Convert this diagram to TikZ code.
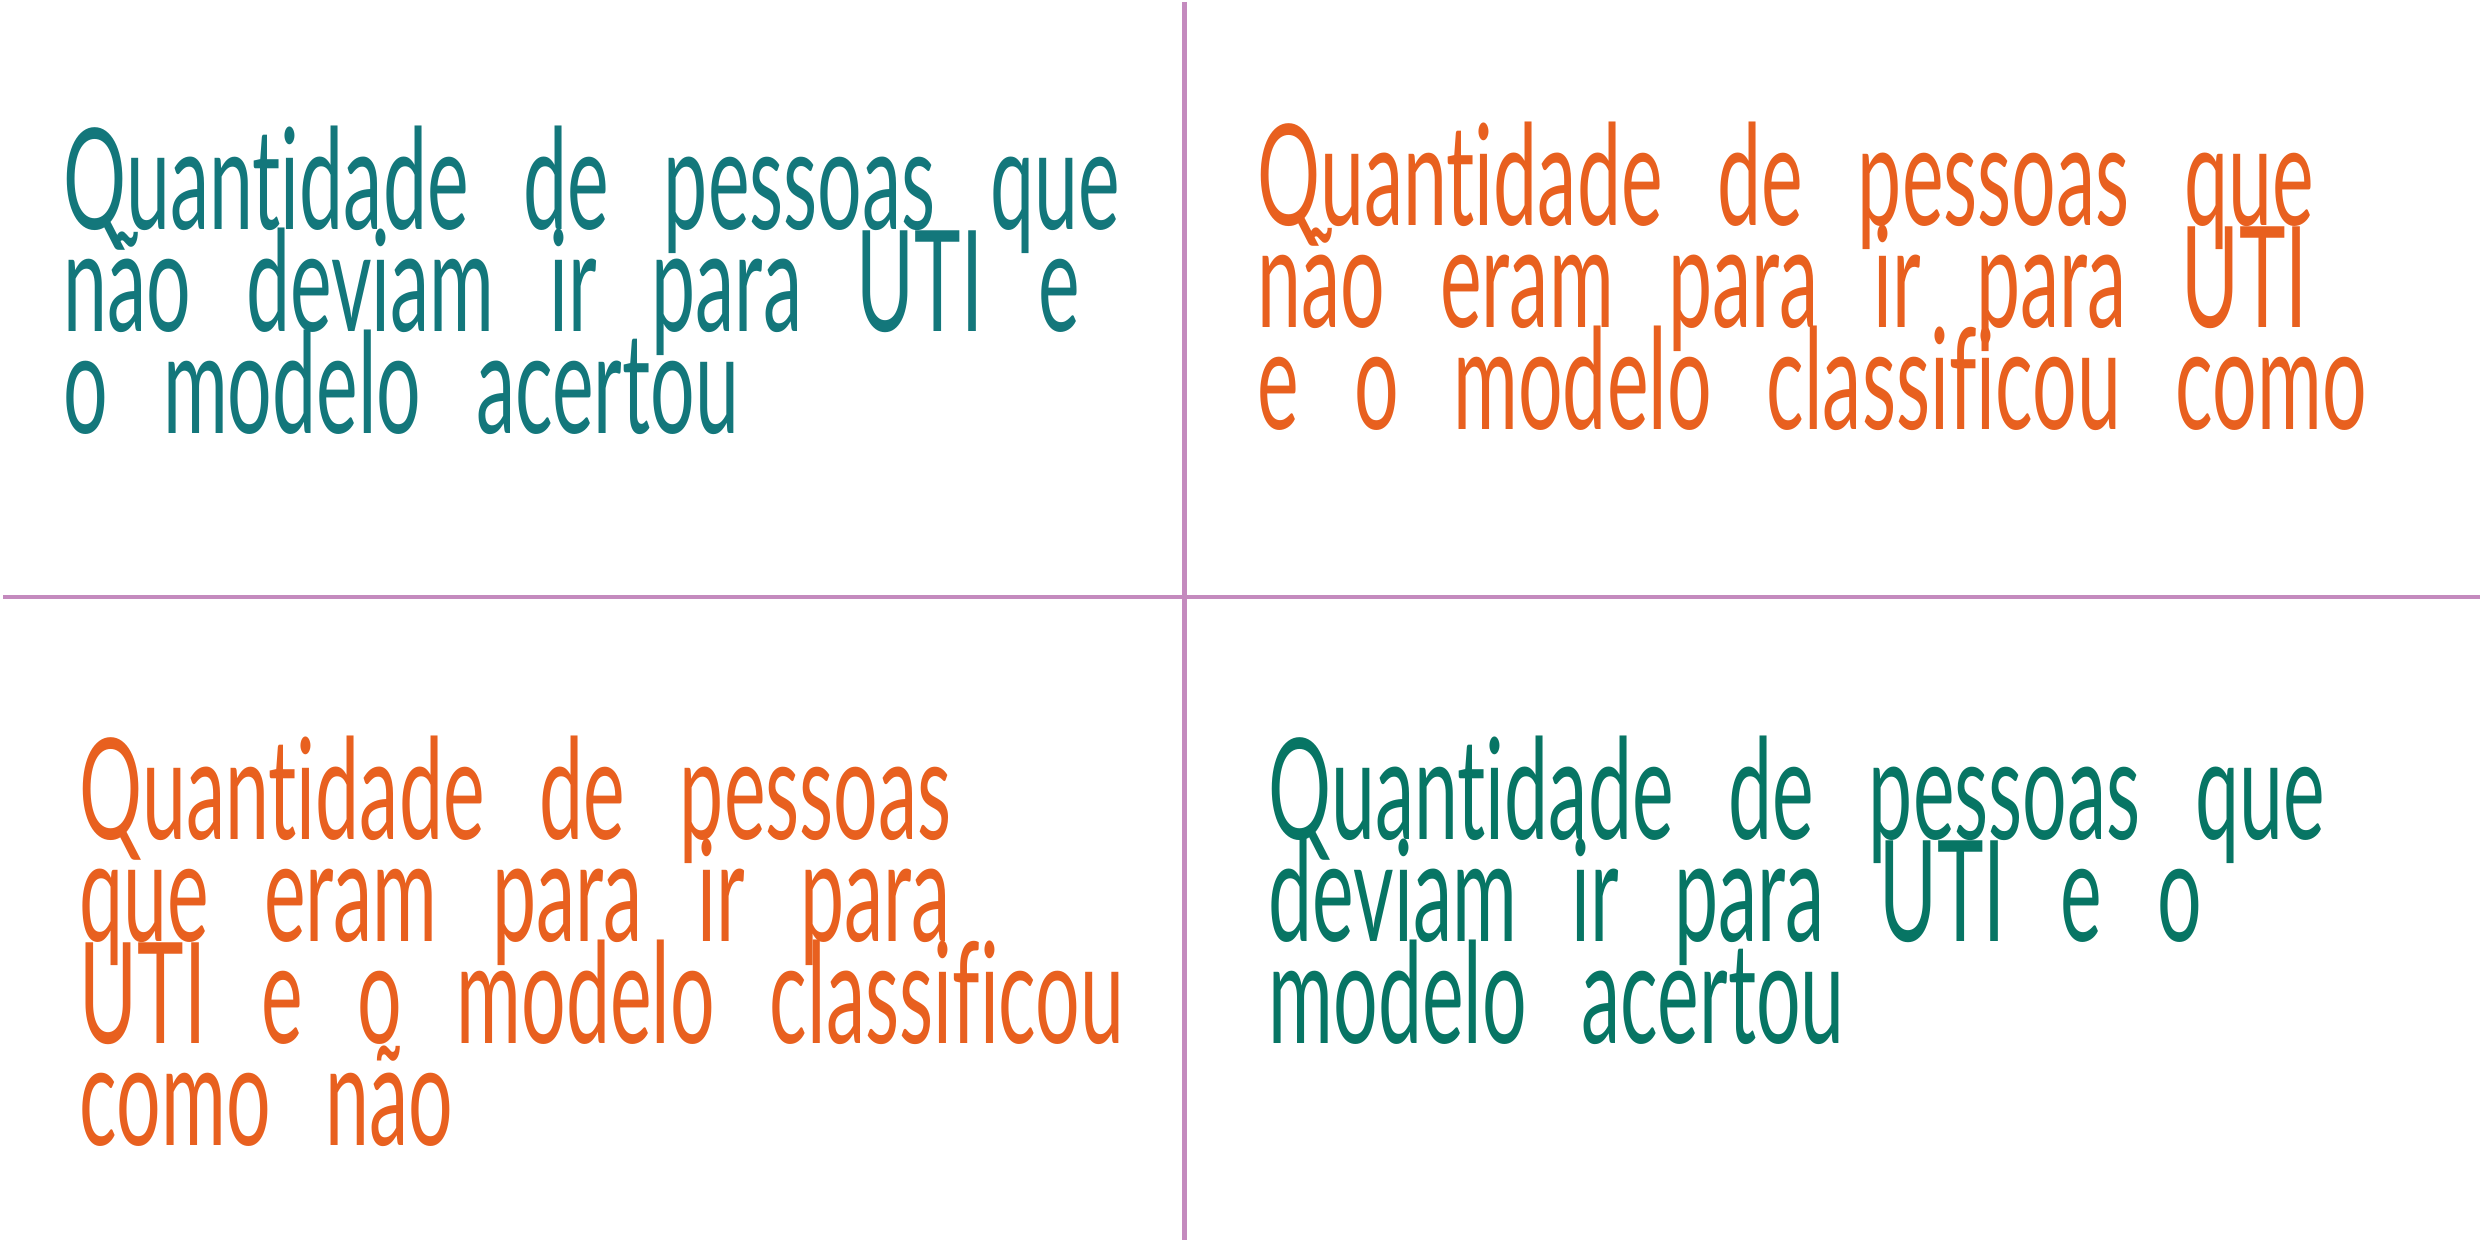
\documentclass[tikz,border=0pt]{standalone}
\usepackage{fontspec}
\setmainfont{Lato}[FakeStretch=0.56, Ligatures=NoCommon]
\usepackage{tikz}
\usetikzlibrary{positioning,calc}
\definecolor{gridpink}{RGB}{196,138,190}
\definecolor{tealtxt}{RGB}{19,119,123}
\definecolor{orangetxt}{RGB}{232,96,31}
\definecolor{greentxt}{RGB}{7,117,100}
\newcommand{\quadfont}{\fontsize{40pt}{29pt}\selectfont\spaceskip 15.6pt\relax\lineskiplimit -100pt\relax}
\tikzstyle{line} = [draw=gridpink, line width=1.28pt]
\tikzstyle{quad} = [anchor=base west, inner sep=0pt, align=left, font={\quadfont}]

\begin{document}
\begin{tikzpicture}
  \useasboundingbox (0,0) rectangle (24.8,12.4);
  % grid lines
  \coordinate (vtop) at (11.845,12.38);
  \coordinate (vbot) at (11.845,0);
  \coordinate (hleft) at (0.033,6.43);
  \coordinate (hright) at (24.8,6.43);
  \path[line] (vtop) -- (vbot);
  \path[line] (hleft) -- (hright);
  % quadrants (anchored at the baseline of the last line)
  \node[quad, text=tealtxt] (tn) at (0.63,8.07)
    {Quantidade de pessoas que\\não deviam ir para UTI e\\o modelo acertou};
  \node[quad, text=orangetxt] (fp) at (12.57,8.11)
    {Quantidade de pessoas que\\não eram para ir para UTI\\e o modelo classificou como};
  \node[quad, text=orangetxt] (fn) at (0.79,0.95)
    {Quantidade de pessoas\\que eram para ir para\\UTI e o modelo classificou\\como não};
  \node[quad, text=greentxt] (tp) at (12.68,1.97)
    {Quantidade de pessoas que\\deviam ir para UTI e o\\modelo acertou};
\end{tikzpicture}
\end{document}
